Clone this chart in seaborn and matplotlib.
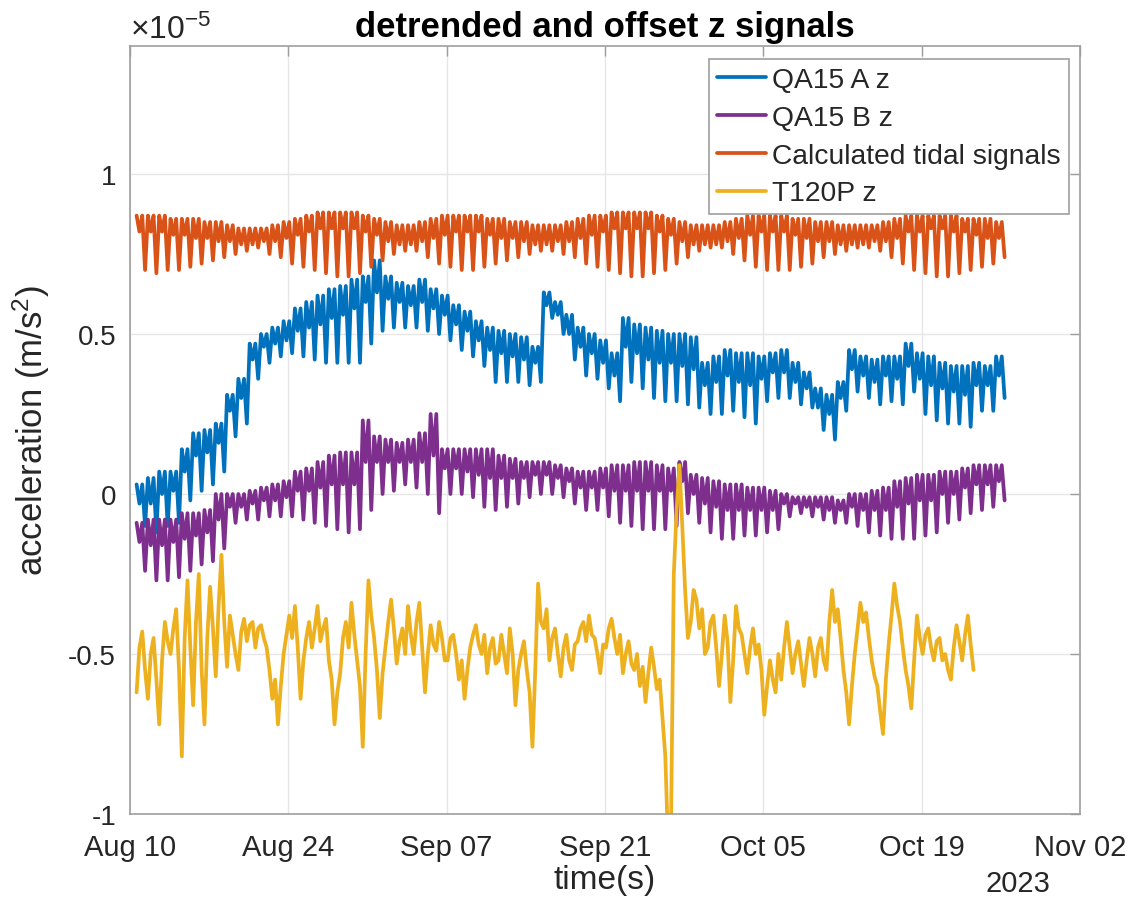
import numpy as np
import pandas as pd
import matplotlib
matplotlib.use("Agg")
import matplotlib.pyplot as plt
import seaborn as sns

# ---------------- data (values in units of 1e-5 m/s^2) ----------------
series_names = ["QA15 A z", "QA15 B z", "Calculated tidal signals", "T120P z"]
series_colors = ["#0072BD", "#7E2F8E", "#D95319", "#EDB120"]
x_tick_dates = ["2023-08-10", "2023-08-24", "2023-09-07", "2023-09-21",
                "2023-10-05", "2023-10-19", "2023-11-02"]
x_tick_labels = ["Aug 10", "Aug 24", "Sep 07", "Sep 21", "Oct 05", "Oct 19", "Nov 02"]
y_ticks = [-1, -0.5, 0, 0.5, 1]
y_tick_labels = ["-1", "-0.5", "0", "0.5", "1"]
record_start = "2023-08-10 14:00"

# per day: high, shallow dip, high, deep low (samples 6 h apart)
qa15a_hi = [0.03, 0.05, 0.07, 0.07, 0.14, 0.19, 0.20, 0.22, 0.31, 0.36,
            0.47, 0.50, 0.52, 0.54, 0.58, 0.60, 0.62, 0.64, 0.65, 0.67,
            0.68, 0.73, 0.68, 0.66, 0.65, 0.67, 0.64, 0.62, 0.59, 0.57,
            0.54, 0.52, 0.51, 0.50, 0.49, 0.46, 0.63, 0.60, 0.56, 0.52,
            0.50, 0.48, 0.44, 0.55, 0.53, 0.52, 0.51, 0.50, 0.50, 0.49,
            0.41, 0.43, 0.45, 0.44, 0.44, 0.43, 0.44, 0.45, 0.41, 0.38,
            0.33, 0.31, 0.35, 0.45, 0.43, 0.42, 0.43, 0.43, 0.47, 0.44,
            0.43, 0.41, 0.40, 0.40, 0.41, 0.40, 0.43]
qa15a_dip = [-0.03, -0.03, 0.00, 0.01, 0.07, 0.12, 0.13, 0.16, 0.26, 0.30,
             0.42, 0.46, 0.47, 0.48, 0.51, 0.52, 0.53, 0.55, 0.56, 0.58,
             0.60, 0.63, 0.61, 0.60, 0.59, 0.60, 0.58, 0.56, 0.53, 0.51,
             0.48, 0.45, 0.44, 0.43, 0.42, 0.41, 0.59, 0.56, 0.50, 0.46,
             0.44, 0.41, 0.37, 0.46, 0.44, 0.42, 0.41, 0.41, 0.40, 0.39,
             0.34, 0.35, 0.37, 0.35, 0.34, 0.36, 0.38, 0.38, 0.35, 0.33,
             0.27, 0.25, 0.30, 0.39, 0.37, 0.35, 0.37, 0.36, 0.40, 0.36,
             0.34, 0.33, 0.32, 0.31, 0.34, 0.34, 0.37]
qa15a_lo = [-0.10, -0.12, -0.10, -0.09, -0.02, 0.01, 0.03, 0.07, 0.18, 0.22,
            0.36, 0.41, 0.43, 0.44, 0.43, 0.42, 0.41, 0.41, 0.41, 0.41,
            0.47, 0.51, 0.52, 0.52, 0.52, 0.51, 0.50, 0.48, 0.45, 0.43,
            0.40, 0.35, 0.35, 0.35, 0.34, 0.35, 0.55, 0.50, 0.42, 0.37,
            0.36, 0.33, 0.29, 0.35, 0.33, 0.30, 0.29, 0.29, 0.28, 0.27,
            0.25, 0.25, 0.26, 0.24, 0.22, 0.29, 0.30, 0.30, 0.28, 0.27,
            0.20, 0.17, 0.26, 0.32, 0.30, 0.28, 0.29, 0.28, 0.32, 0.25,
            0.23, 0.22, 0.22, 0.21, 0.26, 0.26, 0.30]

qa15b_hi = [-0.09, -0.08, -0.08, -0.08, -0.06, -0.06, -0.05, 0.00, 0.00, 0.00,
            0.01, 0.02, 0.03, 0.04, 0.07, 0.08, 0.10, 0.12, 0.13, 0.13,
            0.23, 0.18, 0.17, 0.16, 0.17, 0.19, 0.25, 0.14, 0.14, 0.14,
            0.14, 0.14, 0.12, 0.11, 0.10, 0.10, 0.10, 0.09, 0.08, 0.07,
            0.07, 0.08, 0.09, 0.09, 0.10, 0.10, 0.09, 0.08, 0.10, 0.06,
            0.05, 0.04, 0.03, 0.03, 0.02, 0.02, 0.01, 0.00, -0.01, -0.01,
            -0.01, -0.01, -0.02, 0.00, 0.00, 0.01, 0.02, 0.04, 0.05, 0.06,
            0.06, 0.07, 0.07, 0.08, 0.09, 0.09, 0.09]
qa15b_dip = [-0.15, -0.16, -0.16, -0.15, -0.14, -0.13, -0.12, -0.08, -0.04, -0.04,
             -0.03, -0.02, -0.02, -0.01, 0.01, 0.01, 0.02, 0.03, 0.03, 0.03,
             0.10, 0.10, 0.10, 0.10, 0.10, 0.10, 0.12, 0.08, 0.08, 0.07,
             0.06, 0.05, 0.05, 0.05, 0.05, 0.06, 0.06, 0.05, 0.04, 0.02,
             0.02, 0.02, 0.01, 0.01, 0.01, 0.01, 0.01, 0.01, 0.04, 0.00,
             -0.03, -0.04, -0.05, -0.05, -0.05, -0.05, -0.05, -0.03, -0.03, -0.04,
             -0.04, -0.05, -0.05, -0.04, -0.05, -0.05, -0.05, -0.04, -0.03, -0.02,
             -0.02, 0.00, 0.00, 0.02, 0.03, 0.03, 0.04]
qa15b_lo = [-0.24, -0.27, -0.27, -0.26, -0.24, -0.22, -0.21, -0.17, -0.09, -0.08,
            -0.08, -0.07, -0.07, -0.07, -0.08, -0.09, -0.10, -0.11, -0.12, -0.11,
            -0.05, 0.00, 0.01, 0.03, 0.02, 0.00, -0.06, 0.00, 0.00, -0.01,
            -0.04, -0.05, -0.04, -0.03, -0.01, 0.00, 0.00, -0.01, -0.03, -0.05,
            -0.05, -0.07, -0.09, -0.10, -0.11, -0.11, -0.11, -0.10, -0.06, -0.09,
            -0.12, -0.14, -0.14, -0.13, -0.13, -0.12, -0.11, -0.07, -0.06, -0.07,
            -0.08, -0.09, -0.09, -0.10, -0.12, -0.13, -0.14, -0.14, -0.14, -0.13,
            -0.12, -0.09, -0.08, -0.06, -0.05, -0.04, -0.02]

tidal_hi = [0.87, 0.87, 0.87, 0.86, 0.86, 0.86, 0.85, 0.85, 0.84, 0.83,
            0.83, 0.83, 0.84, 0.85, 0.86, 0.87, 0.88, 0.88, 0.88, 0.88,
            0.87, 0.86, 0.85, 0.84, 0.84, 0.85, 0.86, 0.87, 0.87, 0.87,
            0.87, 0.86, 0.86, 0.85, 0.85, 0.84, 0.84, 0.84, 0.85, 0.86,
            0.87, 0.87, 0.88, 0.88, 0.88, 0.88, 0.87, 0.86, 0.85, 0.84,
            0.84, 0.84, 0.85, 0.86, 0.87, 0.87, 0.87, 0.87, 0.86, 0.86,
            0.85, 0.85, 0.84, 0.84, 0.84, 0.84, 0.85, 0.86, 0.87, 0.87,
            0.87, 0.87, 0.87, 0.86, 0.86, 0.86, 0.85]
tidal_dip = [0.82, 0.82, 0.82, 0.81, 0.81, 0.80, 0.80, 0.79, 0.79, 0.78,
             0.78, 0.79, 0.79, 0.80, 0.81, 0.82, 0.83, 0.83, 0.83, 0.83,
             0.82, 0.81, 0.79, 0.78, 0.78, 0.79, 0.80, 0.81, 0.82, 0.82,
             0.82, 0.81, 0.80, 0.80, 0.79, 0.78, 0.78, 0.79, 0.79, 0.80,
             0.81, 0.82, 0.83, 0.83, 0.83, 0.83, 0.82, 0.81, 0.79, 0.78,
             0.78, 0.78, 0.79, 0.80, 0.81, 0.82, 0.82, 0.82, 0.81, 0.80,
             0.79, 0.79, 0.78, 0.78, 0.78, 0.79, 0.79, 0.80, 0.82, 0.82,
             0.83, 0.83, 0.82, 0.82, 0.81, 0.80, 0.80]
tidal_lo = [0.70, 0.69, 0.70, 0.70, 0.71, 0.72, 0.73, 0.74, 0.75, 0.76,
            0.77, 0.75, 0.74, 0.72, 0.71, 0.70, 0.69, 0.68, 0.68, 0.69,
            0.71, 0.73, 0.75, 0.76, 0.76, 0.74, 0.72, 0.71, 0.70, 0.70,
            0.71, 0.72, 0.73, 0.74, 0.75, 0.76, 0.76, 0.75, 0.74, 0.72,
            0.71, 0.70, 0.69, 0.68, 0.68, 0.69, 0.70, 0.72, 0.74, 0.76,
            0.77, 0.77, 0.75, 0.73, 0.71, 0.70, 0.70, 0.70, 0.71, 0.72,
            0.74, 0.75, 0.76, 0.77, 0.77, 0.76, 0.74, 0.72, 0.70, 0.69,
            0.68, 0.68, 0.69, 0.70, 0.71, 0.72, 0.74]

# T120P, one value every 6 h
t120p = [-0.62, -0.48, -0.43, -0.55, -0.64, -0.50, -0.45, -0.58, -0.72, -0.52,
         -0.40, -0.46, -0.50, -0.42, -0.36, -0.55, -0.82, -0.45, -0.27, -0.48,
         -0.66, -0.40, -0.25, -0.55, -0.72, -0.45, -0.29, -0.42, -0.57, -0.35,
         -0.19, -0.40, -0.54, -0.38, -0.44, -0.50, -0.55, -0.43, -0.39, -0.46,
         -0.41, -0.40, -0.48, -0.42, -0.41, -0.45, -0.48, -0.55, -0.64, -0.58,
         -0.72, -0.60, -0.50, -0.44, -0.38, -0.45, -0.35, -0.48, -0.64, -0.52,
         -0.45, -0.40, -0.48, -0.42, -0.35, -0.46, -0.42, -0.39, -0.52, -0.58,
         -0.72, -0.62, -0.56, -0.45, -0.40, -0.48, -0.34, -0.44, -0.52, -0.60,
         -0.79, -0.50, -0.27, -0.38, -0.45, -0.55, -0.70, -0.56, -0.48, -0.40,
         -0.33, -0.42, -0.53, -0.46, -0.42, -0.50, -0.35, -0.44, -0.50, -0.40,
         -0.34, -0.48, -0.62, -0.50, -0.41, -0.47, -0.49, -0.40, -0.45, -0.52,
         -0.52, -0.45, -0.44, -0.50, -0.58, -0.52, -0.64, -0.55, -0.48, -0.44,
         -0.41, -0.47, -0.50, -0.44, -0.56, -0.48, -0.45, -0.53, -0.52, -0.44,
         -0.50, -0.56, -0.42, -0.50, -0.66, -0.55, -0.50, -0.46, -0.55, -0.62,
         -0.79, -0.55, -0.28, -0.40, -0.42, -0.36, -0.52, -0.45, -0.42, -0.50,
         -0.57, -0.48, -0.44, -0.52, -0.55, -0.47, -0.46, -0.42, -0.40, -0.46,
         -0.38, -0.44, -0.45, -0.50, -0.56, -0.47, -0.48, -0.42, -0.39, -0.45,
         -0.50, -0.44, -0.56, -0.50, -0.46, -0.53, -0.55, -0.50, -0.60, -0.54,
         -0.65, -0.56, -0.48, -0.54, -0.61, -0.58, -0.70, -0.82, -1.10, -1.05,
         -0.25, -0.05, 0.09, -0.10, -0.30, -0.45, -0.40, -0.30, -0.33, -0.42,
         -0.36, -0.50, -0.48, -0.40, -0.38, -0.48, -0.60, -0.50, -0.38, -0.46,
         -0.65, -0.52, -0.35, -0.42, -0.44, -0.50, -0.56, -0.48, -0.42, -0.50,
         -0.47, -0.55, -0.69, -0.60, -0.52, -0.58, -0.62, -0.50, -0.58, -0.48,
         -0.40, -0.48, -0.56, -0.50, -0.46, -0.53, -0.60, -0.52, -0.45, -0.50,
         -0.57, -0.48, -0.45, -0.52, -0.55, -0.40, -0.30, -0.40, -0.36, -0.45,
         -0.55, -0.62, -0.72, -0.60, -0.50, -0.42, -0.34, -0.40, -0.37, -0.45,
         -0.52, -0.57, -0.60, -0.68, -0.75, -0.58, -0.47, -0.38, -0.28, -0.35,
         -0.40, -0.48, -0.55, -0.60, -0.67, -0.52, -0.38, -0.45, -0.50, -0.44,
         -0.42, -0.48, -0.52, -0.46, -0.45, -0.52, -0.50, -0.55, -0.58, -0.48,
         -0.41, -0.46, -0.52, -0.44, -0.38, -0.47, -0.55]


def daily_cycle(hi, dip, lo):
    return np.column_stack([hi, dip, hi, lo]).ravel()


values = {
    "QA15 A z": daily_cycle(qa15a_hi, qa15a_dip, qa15a_lo),
    "QA15 B z": daily_cycle(qa15b_hi, qa15b_dip, qa15b_lo),
    "Calculated tidal signals": daily_cycle(tidal_hi, tidal_dip, tidal_lo),
    "T120P z": np.asarray(t120p),
}
frames = []
for name in series_names:
    v = values[name]
    t = pd.date_range(record_start, periods=len(v), freq="6h")
    frames.append(pd.DataFrame({"time": t, "value": v, "series": name}))
df = pd.concat(frames, ignore_index=True)

# ---------------- plot ----------------
sns.set_theme(style="white")
plt.rcParams["font.family"] = ["Liberation Sans", "DejaVu Sans"]
plt.rcParams["mathtext.fontset"] = "custom"
plt.rcParams["mathtext.rm"] = "Liberation Sans"
plt.rcParams["mathtext.it"] = "Liberation Sans:italic"

W, H = 1137, 903
fig = plt.figure(figsize=(W / 100, H / 100), dpi=100)
ax = fig.add_axes([130 / W, 1 - 815 / H, 950 / W, 768 / H])

sns.lineplot(data=df, x="time", y="value", hue="series", hue_order=series_names,
             palette=series_colors, estimator=None, sort=False, linewidth=2.7,
             legend=False, ax=ax)

txt = "#262626"
edge = "#9e9e9e"
ax.set_xlim(pd.Timestamp(x_tick_dates[0]), pd.Timestamp(x_tick_dates[-1]))
ax.set_ylim(-1, 1.4)
ax.set_xticks([pd.Timestamp(d) for d in x_tick_dates])
ax.set_xticklabels(x_tick_labels)
ax.set_yticks(y_ticks)
ax.set_yticklabels(y_tick_labels)
ax.tick_params(axis="both", direction="in", length=7, width=1, color=edge,
               labelcolor=txt, top=True, right=True)
ax.tick_params(axis="x", pad=14, labelsize=21)
ax.tick_params(axis="y", pad=10, labelsize=20)
ax.grid(True, color="#e6e6e6", linewidth=1)
for s in ax.spines.values():
    s.set_color(edge)
    s.set_linewidth(1.2)

ax.set_xlabel("time(s)", fontsize=24, color=txt, labelpad=2)
ax.set_ylabel("acceleration (m/s$^2$)", fontsize=25, color=txt, labelpad=12)
ax.set_title("detrended and offset z signals", fontsize=25, fontweight="bold",
             color="black", pad=7)

fig.text(130 / W, 1 - 39 / H, r"$\times10^{-5}$", fontsize=23, color=txt,
         ha="left", va="baseline")
ax.text((1018 - 130) / 950, -0.072, "2023", transform=ax.transAxes,
        fontsize=21, color=txt, ha="center", va="top")

handles = [plt.Line2D([], [], color=c, lw=2.7) for c in series_colors]
leg = ax.legend(handles, series_names, loc="upper right",
                bbox_to_anchor=(0.988, 0.983), borderaxespad=0,
                fontsize=20.3, frameon=True, fancybox=False, framealpha=1,
                edgecolor=edge, handlelength=1.75, handletextpad=0.2,
                labelspacing=0.42, borderpad=0.28)
leg.get_frame().set_linewidth(1.2)
for t in leg.get_texts():
    t.set_color(txt)

fig.savefig("out.png", dpi=100)
